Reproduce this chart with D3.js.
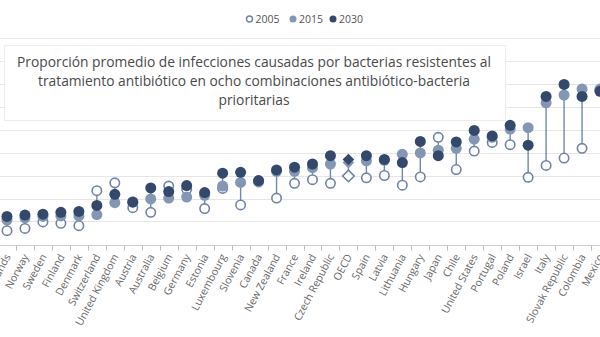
<!DOCTYPE html>
<html>
<head>
<meta charset="utf-8">
<script src="https://cdn.jsdelivr.net/npm/d3@7"></script>
<style>
  html, body { margin: 0; padding: 0; background: #fff; overflow: hidden; }
  svg { display: block; font-family: "Open Sans", "Noto Sans", sans-serif; }
</style>
</head>
<body>
<svg id="chart" width="600" height="337"></svg>
<script>
// Countries, ordered by 2015 level
const categories = ["Netherlands", "Norway", "Sweden", "Finland", "Denmark", "Switzerland",
  "United Kingdom", "Austria", "Australia", "Belgium", "Germany", "Estonia", "Luxembourg",
  "Slovenia", "Canada", "New Zealand", "France", "Ireland", "Czech Republic", "OECD", "Spain",
  "Latvia", "Lithuania", "Hungary", "Japan", "Chile", "United States", "Portugal", "Poland",
  "Israel", "Italy", "Slovak Republic", "Colombia", "Mexico"];

// Average resistance proportion (%)
const v2005 = [3.0, 3.5, 4.9, 4.6, 4.1, 11.7, 13.4, 8.0, 7.0, 12.7, 12.0, 7.8, 12.2, 8.6, 13.6,
  10.1, 13.3, 14.1, 13.3, 14.9, 14.5, 15.0, 12.9, 14.7, 23.3, 16.3, 20.3, 22.2, 21.7, 14.6,
  17.2, 18.8, 20.9, 33.5];
const v2015 = [5.3, 5.8, 6.1, 6.2, 6.2, 6.5, 9.1, 9.3, 9.9, 10.1, 10.3, 10.7, 12.7, 13.5, 13.8,
  15.9, 15.9, 16.7, 17.5, 17.8, 18.2, 18.3, 19.6, 19.9, 20.5, 20.9, 22.9, 23.3, 25.1, 25.4,
  30.8, 32.5, 33.8, 33.8];
const v2030 = [6.1, 6.4, 6.6, 7.0, 7.2, 8.5, 10.9, 9.2, 12.3, 11.5, 12.8, 11.3, 15.5, 15.7, 13.9,
  16.2, 16.8, 17.5, 19.3, 18.5, 19.3, 18.5, 17.8, 22.4, 19.3, 22.3, 24.8, 23.6, 25.9, 21.6,
  32.2, 34.8, 32.2, 33.3];

const seriesNames = ["2005", "2015", "2030"];
const yTicks = [0, 5, 10, 15, 20, 25, 30, 35, 40, 45];
const titleLines = [
  "Proporción promedio de infecciones causadas por bacterias resistentes al",
  "tratamiento antibiótico en ocho combinaciones antibiótico-bacteria",
  "prioritarias"
];

const colors = { "2005": "#6e83a9", "2015": "#8396b4", "2030": "#34486b" };

const svg = d3.select("#chart");

const x = d3.scaleBand().domain(categories).range([-2, 609]).padding(0);
const y = d3.scaleLinear().domain([0, 45]).range([244.5, 37.5]);

const rows = categories.map((c, i) => ({ c, a: v2005[i], b: v2015[i], d: v2030[i] }));

// gridlines
svg.append("g")
  .selectAll("line")
  .data(yTicks.slice(1))
  .join("line")
  .attr("x1", 0).attr("x2", 600)
  .attr("y1", d => Math.round(y(d)) + 0.5).attr("y2", d => Math.round(y(d)) + 0.5)
  .attr("stroke", "#e6e6e6").attr("stroke-width", 1);

// x axis: labels at band centres, ticks at band boundaries
const axisY = Math.round(y(0)) + 0.5;
const xAxis = svg.append("g").attr("transform", `translate(0,${axisY})`)
  .call(d3.axisBottom(x).tickSize(0).tickPadding(0));
xAxis.select(".domain").remove();
xAxis.selectAll("text")
  .attr("fill", "#666")
  .attr("font-size", "10.5px")
  .attr("font-family", "'Open Sans', sans-serif")
  .attr("text-anchor", "end")
  .attr("dy", null)
  .attr("transform", "translate(4,11) rotate(-62)");

svg.append("line")
  .attr("x1", 0).attr("x2", 600).attr("y1", axisY).attr("y2", axisY)
  .attr("stroke", "#cfcfcf");
svg.append("g").selectAll("line")
  .data(categories)
  .join("line")
  .attr("x1", d => Math.round(x(d)) + 0.5).attr("x2", d => Math.round(x(d)) + 0.5)
  .attr("y1", axisY).attr("y2", axisY + 5)
  .attr("stroke", "#bdbdbd");

// stems spanning the three years
svg.append("g").selectAll("line")
  .data(rows)
  .join("line")
  .attr("x1", r => x(r.c) + x.bandwidth() / 2)
  .attr("x2", r => x(r.c) + x.bandwidth() / 2)
  .attr("y1", r => y(Math.max(r.a, r.b, r.d)))
  .attr("y2", r => y(Math.min(r.a, r.b, r.d)))
  .attr("stroke", "#7088b0").attr("stroke-width", 1.4);

const R = 5.5;
const diamond = d3.symbol().type(d3.symbolDiamond2).size(85);

function drawSeries(key, name) {
  const g = svg.append("g");
  rows.forEach(r => {
    const cx = x(r.c) + x.bandwidth() / 2, cy = y(r[key]);
    const hollow = name === "2005";
    let m;
    if (r.c === "OECD") {
      m = g.append("path").attr("d", diamond).attr("transform", `translate(${cx},${cy})`);
    } else {
      m = g.append("circle").attr("cx", cx).attr("cy", cy).attr("r", hollow ? R - 0.8 : R);
    }
    if (hollow) m.attr("fill", "#fff").attr("stroke", colors[name]).attr("stroke-width", 1.6);
    else m.attr("fill", colors[name]);
  });
}
drawSeries("a", "2005");
drawSeries("b", "2015");
drawSeries("d", "2030");

// legend
const legendX = [249.5, 293, 333];
const lg = svg.append("g");
seriesNames.forEach((s, i) => {
  lg.append("circle").attr("cx", legendX[i]).attr("cy", 19).attr("r", s === "2005" ? 3 : 3.5)
    .attr("fill", s === "2005" ? "#fff" : colors[s])
    .attr("stroke", s === "2005" ? colors[s] : "none").attr("stroke-width", 1.4);
  lg.append("text").attr("x", legendX[i] + 6).attr("y", 19).attr("dy", "0.35em")
    .attr("font-size", "10.5px").attr("fill", "#555").text(s);
});

// title box
svg.append("rect")
  .attr("x", 4.5).attr("y", 45.5).attr("width", 501).attr("height", 75)
  .attr("fill", "#fff").attr("stroke", "#ececec");
const tt = svg.append("text").attr("text-anchor", "middle").attr("font-size", "13.8px").attr("fill", "#4a4a4a");
titleLines.forEach((t, i) => {
  tt.append("tspan").attr("x", 254).attr("y", 62 + i * 19).attr("dy", "0.35em").text(t);
});
</script>
</body>
</html>
